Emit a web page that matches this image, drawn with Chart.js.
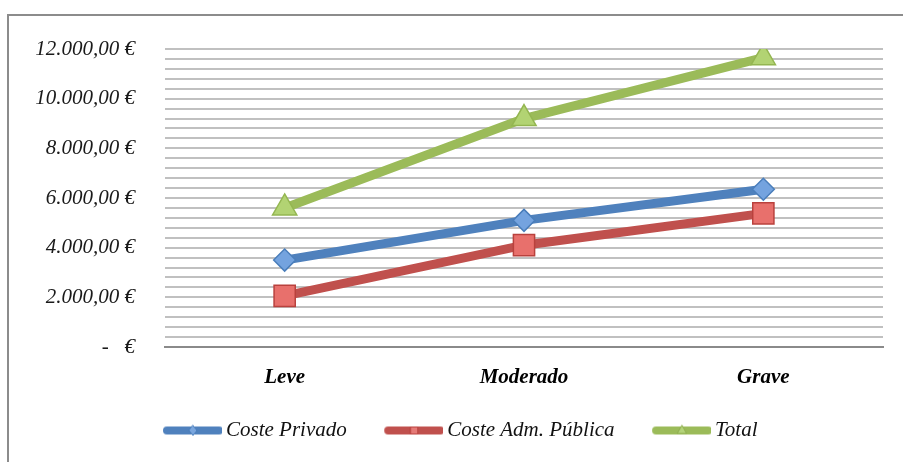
<!DOCTYPE html>
<html>
<head>
<meta charset="utf-8">
<script src="https://cdn.jsdelivr.net/npm/chart.js@4/dist/chart.umd.min.js"></script>
<style>
  html, body { margin: 0; padding: 0; background: #fff; overflow: hidden; }
  #frame { position: absolute; left: 7px; top: 14px; width: 960px; height: 520px; border: 2px solid #8c8c8c; }
  #wrap { position: absolute; left: 0; top: 0; width: 903px; height: 462px; }
</style>
</head>
<body>
<div id="frame"></div>
<div id="wrap"><canvas id="chart"></canvas></div>
<script>
const categories = ['Leve', 'Moderado', 'Grave'];
const costePrivado = [3500, 5100, 6350];
const costeAdmPublica = [2060, 4100, 5380];
const total = [5600, 9200, 11650];
const yTicks = [0, 2000, 4000, 6000, 8000, 10000, 12000];

const serif = 'Liberation Serif';

function euro(v) {
    if (v === 0) return '-\u00a0\u00a0\u00a0€';
    const s = Math.round(v).toString().replace(/\B(?=(\d{3})+(?!\d))/g, '.');
    return s + ',00 €';
}

// legend picture: thick line with a small marker, drawn left of the label box
// box is 90 wide, picture is 103 wide centred on it, line sits in its right 58 px
function legendIcon(color, fill, border, shape) {
    const c = document.createElement('canvas');
    c.width = 103; c.height = 14;
    const g = c.getContext('2d');
    const x0 = 48, x1 = 100, mx = 74;
    g.strokeStyle = color;
    g.lineWidth = 8;
    g.lineCap = 'round';
    g.beginPath(); g.moveTo(x0, 7); g.lineTo(x1, 7); g.stroke();
    g.fillStyle = fill; g.strokeStyle = border; g.lineWidth = 1;
    g.beginPath();
    if (shape === 'diamond') {
        g.moveTo(mx, 2); g.lineTo(mx + 4, 7); g.lineTo(mx, 12); g.lineTo(mx - 4, 7);
    } else if (shape === 'square') {
        g.rect(mx - 3.5, 3.5, 7, 7);
    } else {
        g.moveTo(mx, 2); g.lineTo(mx + 4.5, 10); g.lineTo(mx - 4.5, 10);
    }
    g.closePath(); g.fill(); g.stroke();
    return c;
}

const icons = [
    legendIcon('#4f81bd', '#7aa6de', '#4a7ebb', 'diamond'),
    legendIcon('#c0504d', '#e57a77', '#b9413d', 'square'),
    legendIcon('#9bbb59', '#b4d47a', '#8fae4f', 'triangle')
];

new Chart(document.getElementById('chart'), {
    type: 'line',
    data: {
        labels: categories,
        datasets: [{
            label: 'Coste Privado',
            data: costePrivado,
            borderColor: '#4f81bd',
            borderWidth: 9,
            pointStyle: 'rectRot',
            pointRadius: 11,
            pointBackgroundColor: '#74a3df',
            pointBorderColor: '#4a7ebb',
            pointBorderWidth: 1.5
        }, {
            label: 'Coste Adm. Pública',
            data: costeAdmPublica,
            borderColor: '#c0504d',
            borderWidth: 9,
            pointStyle: 'rect',
            pointRadius: 15,
            pointBackgroundColor: '#e8706c',
            pointBorderColor: '#b9413d',
            pointBorderWidth: 1.5
        }, {
            label: 'Total',
            data: total,
            borderColor: '#9bbb59',
            borderWidth: 9,
            pointStyle: 'triangle',
            pointRadius: 14,
            pointBackgroundColor: '#b2d373',
            pointBorderColor: '#94b651',
            pointBorderWidth: 1.5
        }]
    },
    options: {
        responsive: true,
        maintainAspectRatio: false,
        animation: false,
        layout: { padding: { top: 49, right: 20, bottom: 11, left: 0 } },
        plugins: {
            tooltip: { enabled: false },
            legend: {
                position: 'bottom',
                labels: {
                    usePointStyle: true,
                    pointStyleWidth: 90,
                    padding: 0,
                    color: '#111',
                    font: { family: serif, style: 'italic', size: 21 },
                    generateLabels: function(chart) {
                        const items = Chart.defaults.plugins.legend.labels.generateLabels(chart);
                        items.forEach((it, i) => { it.pointStyle = icons[i]; });
                        return items;
                    }
                }
            }
        },
        scales: {
            x: {
                offset: true,
                grid: { display: false, drawTicks: false },
                border: { display: true, color: '#8a8a8a', width: 2 },
                ticks: {
                    color: '#000',
                    padding: 18,
                    font: { family: serif, style: 'italic', weight: 'bold', size: 21 }
                },
                afterFit: function(scale) { scale.height = 73; }
            },
            y: {
                min: 0,
                max: 12000,
                grid: { color: '#c0c0c0', lineWidth: 2, drawTicks: false },
                border: { display: false },
                ticks: {
                    stepSize: 400,
                    autoSkip: false,
                    padding: 30,
                    color: '#1a1a1a',
                    font: { family: serif, style: 'italic', size: 21 },
                    callback: function(v) { return yTicks.includes(v) ? euro(v) : ''; }
                },
                afterFit: function(scale) { scale.width = 165; }
            }
        }
    }
});
</script>
</body>
</html>
